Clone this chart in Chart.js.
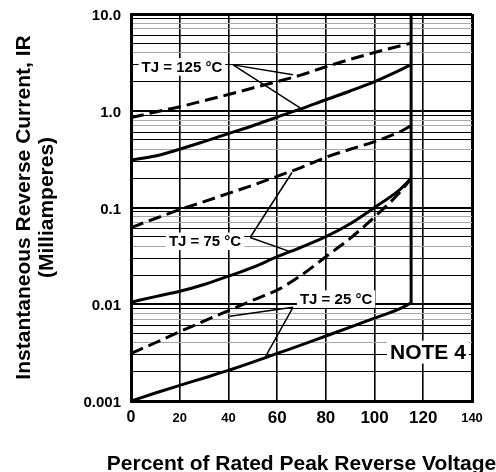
<!DOCTYPE html>
<html>
<head>
<meta charset="utf-8">
<script src="https://cdn.jsdelivr.net/npm/chart.js@4"></script>
<style>
  html, body { margin: 0; padding: 0; background: #fff; }
</style>
</head>
<body>
<canvas id="ir-chart" width="496" height="472"></canvas>
<script>
// percent of rated peak reverse voltage
var percentVoltage = [0, 10, 20, 30, 40, 50, 60, 70, 80, 90, 100, 110, 115];

// reverse current (mA), dashed = max, solid = typical
var ir125Dash  = [0.85, 0.97, 1.1, 1.27, 1.47, 1.72, 2.0, 2.35, 2.85, 3.4, 4.0, 4.65, 5.0];
var ir125Solid = [0.31, 0.34, 0.40, 0.48, 0.58, 0.70, 0.86, 1.05, 1.3, 1.6, 2.0, 2.6, 3.0];
var ir75Dash   = [0.062, 0.077, 0.095, 0.115, 0.14, 0.17, 0.21, 0.26, 0.33, 0.40, 0.48, 0.60, 0.70];
var ir75Solid  = [0.0105, 0.012, 0.0136, 0.016, 0.0195, 0.024, 0.031, 0.039, 0.05, 0.068, 0.10, 0.15, 0.20];
var ir25Dash   = [0.0031, 0.004, 0.0052, 0.0067, 0.0086, 0.011, 0.014, 0.02, 0.031, 0.048, 0.08, 0.14, 0.20];
var ir25Solid  = [0.001, 0.00121, 0.00145, 0.00173, 0.00207, 0.00252, 0.0031, 0.0038, 0.0047, 0.0058, 0.0072, 0.0089, 0.0103];

// rated voltage limit line
var limitX = [115, 115];
var limitY = [0.0103, 10];

// leader lines from the labels to the curves
var leader125aX = [41.9, 66.5], leader125aY = [2.98, 2.35];
var leader125bX = [41.9, 69.4], leader125bY = [2.98, 1.07];
var leader75aX  = [48.9, 66.1], leader75aY  = [0.049, 0.23];
var leader75bX  = [48.9, 65.3], leader75bY  = [0.049, 0.035];
var leader25aX  = [66.5, 40.6], leader25aY  = [0.0093, 0.0075];
var leader25bX  = [66.5, 55.0], leader25bY  = [0.0093, 0.0028];

// axis ticks
var xTicks = [0, 20, 40, 60, 80, 100, 120, 140];
var yDecades = [0.001, 0.01, 0.1, 1, 10];
var yTickLabels = ['0.001', '0.01', '0.1', '1.0', '10.0'];

// text notes placed on the plot
var noteTexts = ['TJ = 125 °C', 'TJ = 75 °C', 'TJ = 25 °C', 'NOTE 4'];
var noteX = [20.9, 30.4, 84.2, 121.9];
var noteY = [2.84, 0.0447, 0.0113, 0.0032];
var noteSize = [15, 15, 15, 21];

var xTitle = 'Percent of Rated Peak Reverse Voltage';

var FONT = '"Liberation Sans", Arial, Helvetica, sans-serif';

function pts(xs, ys) {
  return xs.map(function(x, i) { return { x: x, y: ys[i] }; });
}

function mantissa(v) {
  var e = Math.floor(Math.log10(v) + 1e-9);
  return Math.round(v / Math.pow(10, e));
}

function curve(xs, ys, dashed) {
  return {
    data: pts(xs, ys),
    borderColor: '#000',
    borderWidth: 3,
    borderDash: dashed ? [13, 6] : [],
    pointRadius: 0,
    cubicInterpolationMode: 'monotone',
    fill: false
  };
}

function leader(xs, ys) {
  return {
    data: pts(xs, ys),
    borderColor: '#000',
    borderWidth: 1.5,
    pointRadius: 0,
    tension: 0,
    fill: false
  };
}

var notesPlugin = {
  id: 'notes',
  afterDatasetsDraw: function(chart) {
    var ctx = chart.ctx;
    var xs = chart.scales.x, ys = chart.scales.y;
    ctx.save();
    ctx.textAlign = 'center';
    ctx.textBaseline = 'middle';
    noteTexts.forEach(function(t, i) {
      var px = xs.getPixelForValue(noteX[i]);
      var py = ys.getPixelForValue(noteY[i]);
      ctx.font = 'bold ' + noteSize[i] + 'px ' + FONT;
      var w = ctx.measureText(t).width;
      var h = noteSize[i] * 0.9;
      ctx.fillStyle = '#fff';
      ctx.fillRect(px - w / 2 - 3, py - h / 2 - 2, w + 6, h + 4);
      ctx.fillStyle = '#000';
      ctx.fillText(t, px, py + 1);
    });
    // x axis title, wider than the plot so drawn here without a max width
    var area = chart.chartArea;
    ctx.font = 'bold 21px ' + FONT;
    ctx.textBaseline = 'alphabetic';
    ctx.fillText(xTitle, (area.left + area.right) / 2, 470);
    ctx.restore();
  }
};

window.onload = function() {
  var canvas = document.getElementById('ir-chart');
  new Chart(canvas, {
    type: 'line',
    data: {
      datasets: [
        curve(percentVoltage, ir125Dash, true),
        curve(percentVoltage, ir125Solid, false),
        curve(percentVoltage, ir75Dash, true),
        curve(percentVoltage, ir75Solid, false),
        curve(percentVoltage, ir25Dash, true),
        curve(percentVoltage, ir25Solid, false),
        curve(limitX, limitY, false),
        leader(leader125aX, leader125aY),
        leader(leader125bX, leader125bY),
        leader(leader75aX, leader75aY),
        leader(leader75bX, leader75bY),
        leader(leader25aX, leader25aY),
        leader(leader25bX, leader25bY)
      ]
    },
    options: {
      responsive: false,
      animation: false,
      devicePixelRatio: 1,
      layout: { autoPadding: false, padding: { top: 14, right: 24, left: 0, bottom: 0 } },
      plugins: {
        legend: { display: false },
        tooltip: { enabled: false }
      },
      scales: {
        x: {
          type: 'linear',
          min: 0,
          max: 140,
          afterBuildTicks: function(scale) {
            scale.ticks = xTicks.map(function(v) { return { value: v }; });
          },
          afterFit: function(scale) {
            scale.height = 71;
            scale.paddingLeft = 0;
            scale.paddingRight = 0;
          },
          border: { display: true, color: '#000', width: 3 },
          grid: {
            drawTicks: false,
            color: '#000',
            lineWidth: function(c) {
              var v = c.tick ? c.tick.value : 0;
              return (v === 0 || v === 140) ? 3 : 1.6;
            }
          },
          ticks: {
            autoSkip: false,
            maxRotation: 0,
            padding: 5,
            color: '#000',
            font: function(c) {
              var v = c.tick ? c.tick.value : 0;
              var size = 17;
              if (v === 0) size = 16;
              if (v === 20 || v === 40 || v === 140) size = 13;
              return { family: FONT, size: size, weight: 'bold', lineHeight: '24px' };
            }
          },
          title: { display: false }
        },
        y: {
          type: 'logarithmic',
          min: 0.001,
          max: 10,
          afterBuildTicks: function(scale) {
            var t = [];
            for (var d = 0; d < yDecades.length - 1; d++) {
              for (var m = 1; m <= 9; m++) t.push({ value: m * yDecades[d] });
            }
            t.push({ value: yDecades[yDecades.length - 1] });
            scale.ticks = t;
          },
          afterFit: function(scale) {
            scale.width = 131;
            scale.paddingTop = 0;
            scale.paddingBottom = 0;
          },
          border: { display: true, color: '#000', width: 3 },
          grid: {
            drawTicks: false,
            color: function(c) {
              var v = c.tick ? c.tick.value : 1;
              var m = mantissa(v);
              return (m === 4 || m === 7 || m === 8) ? '#a8a8a8' : '#000';
            },
            lineWidth: function(c) {
              var v = c.tick ? c.tick.value : 1;
              if (Math.abs(v - 10) < 1e-9) return 3;
              return mantissa(v) === 1 ? 2 : 1;
            }
          },
          ticks: {
            autoSkip: false,
            padding: 10,
            labelOffset: 2,
            color: '#000',
            font: { family: FONT, size: 15, weight: 'bold' },
            callback: function(value) {
              for (var i = 0; i < yDecades.length; i++) {
                if (Math.abs(value - yDecades[i]) < yDecades[i] * 1e-6) return yTickLabels[i];
              }
              return '';
            }
          },
          title: {
            display: true,
            text: ['Instantaneous Reverse Current, IR', '(Milliamperes)'],
            color: '#000',
            font: { family: FONT, size: 21, weight: 'bold', lineHeight: 1.1 },
            padding: { top: 13, bottom: 0 }
          }
        }
      }
    },
    plugins: [notesPlugin]
  });
};
</script>
</body>
</html>
